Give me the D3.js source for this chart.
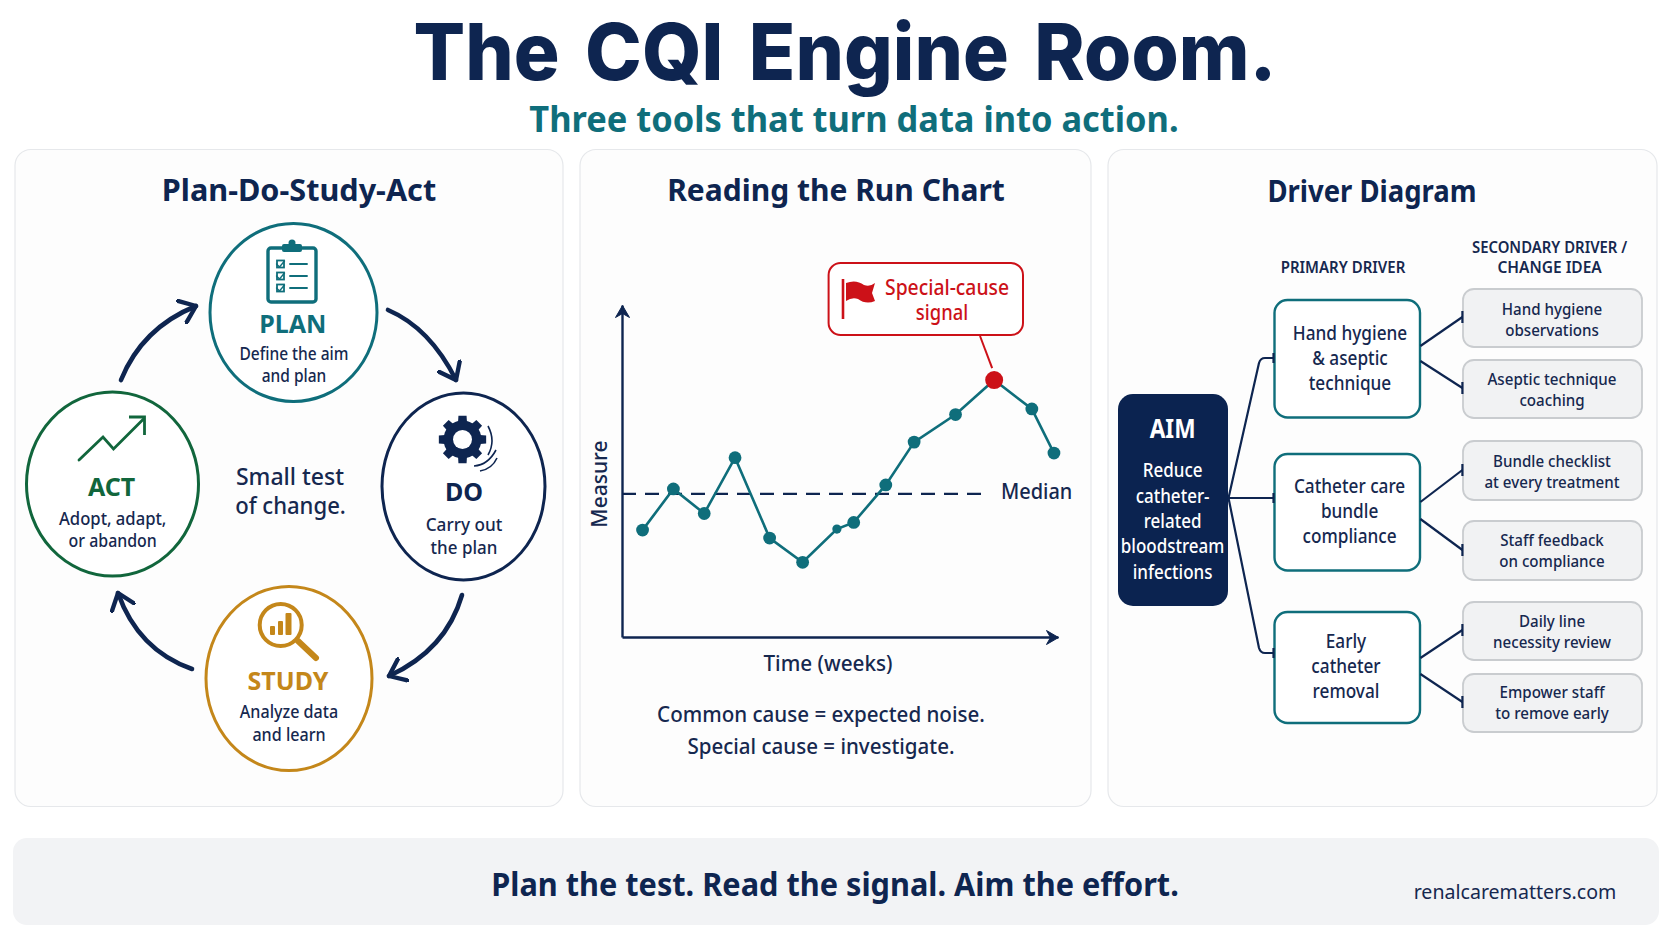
<!DOCTYPE html>
<html><head><meta charset="utf-8">
<script src="https://cdn.jsdelivr.net/npm/d3@7/dist/d3.min.js"></script>
<style>html,body{margin:0;padding:0;background:#fff}svg{display:block}text{font-family:"Noto Sans",sans-serif}</style>
</head><body><div id="c"></div>
<script>
// ---- data ----
const weeks   = [0.66,1.65,2.64,3.63,4.74,5.80,6.90,7.44,8.47,9.38,10.71,11.95,13.16,13.87];
const measure = [32.2,44.6,37.2,54.0,29.8,22.5,32.5,34.5,45.8,58.7,67.0,77.4,68.7,55.4];
const medianValue = 43.1;
const signalIndex = 11;
const smallPointIndex = 6;
const pdsaNames = ["PLAN","DO","STUDY","ACT"];
const pdsaLines = [["Define the aim","and plan"],["Carry out","the plan"],["Analyze data","and learn"],["Adopt, adapt,","or abandon"]];
const primaryDrivers = [["Hand hygiene","& aseptic","technique"],["Catheter care","bundle","compliance"],["Early","catheter","removal"]];
const secondaryDrivers = [["Hand hygiene","observations"],["Aseptic technique","coaching"],["Bundle checklist","at every treatment"],["Staff feedback","on compliance"],["Daily line","necessity review"],["Empower staff","to remove early"]];
const aimLines = ["Reduce","catheter-","related","bloodstream","infections"];

// ---- styling ----
const NAVY="#0e2550",TEAL="#0f6e7b",GREEN="#11663c",GOLD="#c4871a",RED="#cc1118",INK="#16284f";
const svg=d3.select("#c").append("svg").attr("width",1672).attr("height",941).attr("viewBox","0 0 1672 941");
const T=(x,y,s,size,fill,weight,anchor,f)=>{
  const t=svg.append("text").attr("x",x).attr("y",y).text(s).attr("font-size",size).attr("fill",fill).attr("font-weight",weight||500).attr("text-anchor",anchor||"middle");
  if(f&&f!==1){t.attr("textLength",t.node().getComputedTextLength()*f).attr("lengthAdjust","spacingAndGlyphs");}
  return t;
};
const R=(x,y,w,h,r,fill,stroke,sw)=>svg.append("rect").attr("x",x).attr("y",y).attr("width",w).attr("height",h).attr("rx",r).attr("fill",fill).attr("stroke",stroke||"none").attr("stroke-width",sw||0);

const defs=svg.append("defs");
defs.append("marker").attr("id","ah").attr("viewBox","-10 -8 12 16").attr("refX",0).attr("refY",0).attr("markerWidth",20).attr("markerHeight",26.6).attr("markerUnits","userSpaceOnUse").attr("orient","auto").append("path").attr("d","M-9,-7L0,0L-9,7").attr("fill","none").attr("stroke",NAVY).attr("stroke-width",2.6).attr("stroke-linecap","round").attr("stroke-linejoin","round");
defs.append("marker").attr("id","ax").attr("viewBox","-14 -8 16 16").attr("refX",0).attr("refY",0).attr("markerWidth",16).attr("markerHeight",16).attr("markerUnits","userSpaceOnUse").attr("orient","auto").append("path").attr("d","M-12,-7L0,0L-12,7L-8,0Z").attr("fill",NAVY).attr("stroke",NAVY).attr("stroke-width",1).attr("stroke-linejoin","round");

// panels
const PANEL="#fdfdfd";
R(15,149.5,548,657,16,PANEL,"#e6e8eb",1.2);
R(580,149.5,511,657,16,PANEL,"#e6e8eb",1.2);
R(1108,149.5,549,657,16,PANEL,"#e6e8eb",1.2);
R(13,838,1646,87,14,"#f2f3f5");

// headings
const title=T(845,80,"The CQI Engine Room.",79,NAVY,800);
title.style("font-family","Inter").style("word-spacing","9px");
title.attr("textLength",863).attr("lengthAdjust","spacingAndGlyphs");
T(854,132,"Three tools that turn data into action.",36,TEAL,700,"middle",0.956);
T(299,201,"Plan-Do-Study-Act",30,NAVY,700,"middle",1.02);
T(836,201,"Reading the Run Chart",30,NAVY,700);
T(1372,202,"Driver Diagram",30,NAVY,700,"middle",0.915);
T(835,896,"Plan the test. Read the signal. Aim the effort.",33,NAVY,700,"middle",0.93);
T(1515,899,"renalcarematters.com",20.5,INK,400,"middle",0.955);

// ---- PDSA ----
const circ=[{c:[293.5,312.5],r:[83.5,89],col:TEAL,ny:333,ty:[360,382],nx:292.7,tx:294,f:[.887,.885]},
            {c:[463.5,486.5],r:[81.5,93.5],col:NAVY,ny:501,ty:[531,554],nx:464,tx:464,f:[.98,.97]},
            {c:[289,678.5],r:[83,92],col:GOLD,ny:690,ty:[718,741],nx:288,tx:289,f:[.92,.92]},
            {c:[112.5,484],r:[86,92],col:GREEN,ny:496,ty:[525,547],nx:111.6,tx:112.7,f:[.95,.91]}];
circ.forEach((d,i)=>{
  svg.append("ellipse").attr("cx",d.c[0]).attr("cy",d.c[1]).attr("rx",d.r[0]).attr("ry",d.r[1]).attr("fill","#fff").attr("stroke",d.col).attr("stroke-width",3);
  T(d.nx,d.ny,pdsaNames[i],25,d.col,700);
  pdsaLines[i].forEach((s,j)=>T(d.tx,d.ty[j],s,17.5,INK,500,"middle",d.f[j]));
});
T(290,485,"Small test",24,INK,500,"middle",.96);
T(290.5,514,"of change.",24,INK,500,"middle",.92);
[[[388,310],[430,328],[456,380]],
 [[462,595],[446,650],[389,676]],
 [[192,669],[138,650],[118,593]],
 [[121,380],[142,328],[196,306]]].forEach(p=>{
   svg.append("path").attr("d",`M${p[0]}Q${p[1]} ${p[2]}`).attr("fill","none").attr("stroke",NAVY).attr("stroke-width",4.6).attr("stroke-linecap","round").attr("marker-end","url(#ah)");
});
// clipboard icon
const ic=svg.append("g").attr("fill","none").attr("stroke",TEAL).attr("stroke-linecap","round");
ic.append("rect").attr("x",268).attr("y",248).attr("width",48).attr("height",54).attr("rx",3).attr("stroke-width",3.4);
ic.append("rect").attr("x",282).attr("y",244).attr("width",20).attr("height",8).attr("rx",2).attr("fill",TEAL).attr("stroke","none");
ic.append("circle").attr("cx",292).attr("cy",243).attr("r",3.5).attr("fill",TEAL).attr("stroke","none");
[264,276,288].forEach(y=>{
  ic.append("rect").attr("x",277).attr("y",y-3.5).attr("width",7).attr("height",7).attr("stroke-width",1.8);
  ic.append("path").attr("d",`M276.5,${y}l3,3l5,-6`).attr("stroke-width",1.4);
  ic.append("path").attr("d",`M290,${y}H307`).attr("stroke-width",1.9);
});
// gear icon
const gear=[];const gx=462.5,gy=439.5;
for(let i=0;i<8;i++){const a=i*Math.PI/4;
  [[a-0.25,18],[a-0.17,24],[a+0.17,24],[a+0.25,18]].forEach(([t,r])=>gear.push([gx+r*Math.cos(t),gy+r*Math.sin(t)]));
}
svg.append("path").attr("d",d3.line()(gear)+"Z").attr("fill",NAVY);
svg.append("circle").attr("cx",gx).attr("cy",gy).attr("r",19).attr("fill",NAVY);
svg.append("circle").attr("cx",gx).attr("cy",gy).attr("r",9.5).attr("fill","#fff");
svg.append("path").attr("d","M488,426Q496,441 488,455M474,466Q488,465 496,450M480,471Q492,469 497,458").attr("fill","none").attr("stroke",NAVY).attr("stroke-width",1.6);
// trend icon
svg.append("path").attr("d","M79,460L103,437L113.5,449L143.5,419").attr("fill","none").attr("stroke",GREEN).attr("stroke-width",2.8).attr("stroke-linecap","round");
svg.append("path").attr("d","M129,417H144.5V435").attr("fill","none").attr("stroke",GREEN).attr("stroke-width",2.8);
// magnifier icon
svg.append("circle").attr("cx",280.7).attr("cy",625).attr("r",21).attr("fill","none").attr("stroke",GOLD).attr("stroke-width",4);
svg.append("path").attr("d","M298,641L316,658").attr("stroke",GOLD).attr("stroke-width",6).attr("stroke-linecap","round");
[[270,626,5,9],[278,621,5,14],[285.5,613,6,22]].forEach(b=>R(b[0],b[1],b[2],b[3],1,GOLD));

// ---- run chart ----
const x=d3.scaleLinear().domain([0,14]).range([622,1058]);
const y=d3.scaleLinear().domain([0,100]).range([637,305]);
const gx0=svg.append("g").attr("transform",`translate(0,${y(0)})`).call(d3.axisBottom(x).tickValues([]).tickSizeOuter(0));
const gy0=svg.append("g").attr("transform",`translate(${x(0)},0)`).call(d3.axisLeft(y).tickValues([]).tickSizeOuter(0));
[gx0,gy0].forEach(g=>g.select(".domain").attr("stroke",NAVY).attr("stroke-width",2.4).attr("marker-end","url(#ax)"));
svg.append("path").attr("d",d3.line()([[x(0),y(medianValue)],[989,y(medianValue)]])).attr("stroke",NAVY).attr("stroke-width",2.2).attr("stroke-dasharray","14 9");
const pts=weeks.map((w,i)=>[x(w),y(measure[i])]);
svg.append("path").attr("d",d3.line()(pts)).attr("fill","none").attr("stroke",TEAL).attr("stroke-width",2.6);
svg.append("g").selectAll("circle").data(weeks).join("circle").attr("cx",d=>x(d)).attr("cy",(d,i)=>y(measure[i]))
  .attr("r",(d,i)=>i===signalIndex?9:i===smallPointIndex?4.6:6.4).attr("fill",(d,i)=>i===signalIndex?RED:TEAL);
T(1001,499,"Median",22,INK,500,"start",.905);
const mt=svg.append("text").attr("transform","translate(607,484) rotate(-90)").attr("text-anchor","middle").attr("font-size",22).attr("font-weight",500).attr("fill",INK).text("Measure");
mt.attr("textLength",mt.node().getComputedTextLength()*.955).attr("lengthAdjust","spacingAndGlyphs");
T(828,671,"Time (weeks)",22,INK,500,"middle",.94);
T(821,722,"Common cause = expected noise.",22.5,INK,500,"middle",.914);
T(821,754,"Special cause = investigate.",22.5,INK,500,"middle",.913);
R(828.6,263,194.4,72,12,"#fff",RED,2);
svg.append("path").attr("d",`M980,336L${x(weeks[signalIndex])-2},${y(measure[signalIndex])-12}`).attr("stroke",RED).attr("stroke-width",2);
svg.append("path").attr("d","M843,279V319").attr("stroke",RED).attr("stroke-width",2.6);
svg.append("path").attr("d","M846,283Q856,279 864,285Q870,287 875,283L872,293L875,301Q866,305 858,299Q852,297 846,301Z").attr("fill",RED);
T(947,295,"Special-cause",21,RED,500,"middle",.92);
T(942,320,"signal",21,RED,500,"middle",.875);

// ---- driver diagram ----
R(1118,394,110,212,15,"#0b2350");
T(1172.6,438,"AIM",27,"#fff",700,"middle",.84);
[477,503,528,553,579].forEach((yy,i)=>T(1172.6,yy,aimLines[i],20,"#fff",500,"middle",.85));
T(1343,273,"PRIMARY DRIVER",15.5,INK,600,"middle",.967);
T(1549.6,253,"SECONDARY DRIVER /",15.5,INK,600,"middle",.96);
T(1549.6,273,"CHANGE IDEA",15.5,INK,600,"middle",1);
const pBox=[[300,417.5,1350,340],[454,570.5,1349.6,493],[612,723,1346,648]];
pBox.forEach((b,i)=>{
  R(1274.5,b[0],145.5,b[1]-b[0],13,"#fff",TEAL,2.4);
  primaryDrivers[i].forEach((s,j)=>T(b[2],b[3]+25*j,s,20,INK,500,"middle",.86));
});
const sBox=[[289,347,315],[360,418,385],[441,500,467],[521,580,546],[602,660,627],[674,732,698]];
sBox.forEach((b,i)=>{
  R(1463,b[0],179,b[1]-b[0],11,"#f1f2f3","#c9cccf",1.8);
  secondaryDrivers[i].forEach((s,j)=>T(1552,b[2]+(j?21:0),s,17,INK,500,"middle",.89));
});
const link=d=>svg.append("path").attr("d",d).attr("fill","none").attr("stroke",NAVY).attr("stroke-width",2.2).attr("stroke-linejoin","round");
link("M1228.5,498L1259,363Q1260.5,358 1265,358H1274");
link("M1228.5,498H1274");
link("M1228.5,498L1259,648Q1260.5,653 1265,653H1274");
[[358],[498],[653]].forEach(a=>link(`M1273.5,${a[0]-5}V${a[0]+5}`));
[[346,317],[361,388],[502,470],[519,550],[658,630],[674,702]].forEach(a=>{
  link(`M1420.4,${a[0]}L1462.4,${a[1]}`);
  link(`M1462.4,${a[1]-6}V${a[1]+6}`);
});
</script></body></html>
